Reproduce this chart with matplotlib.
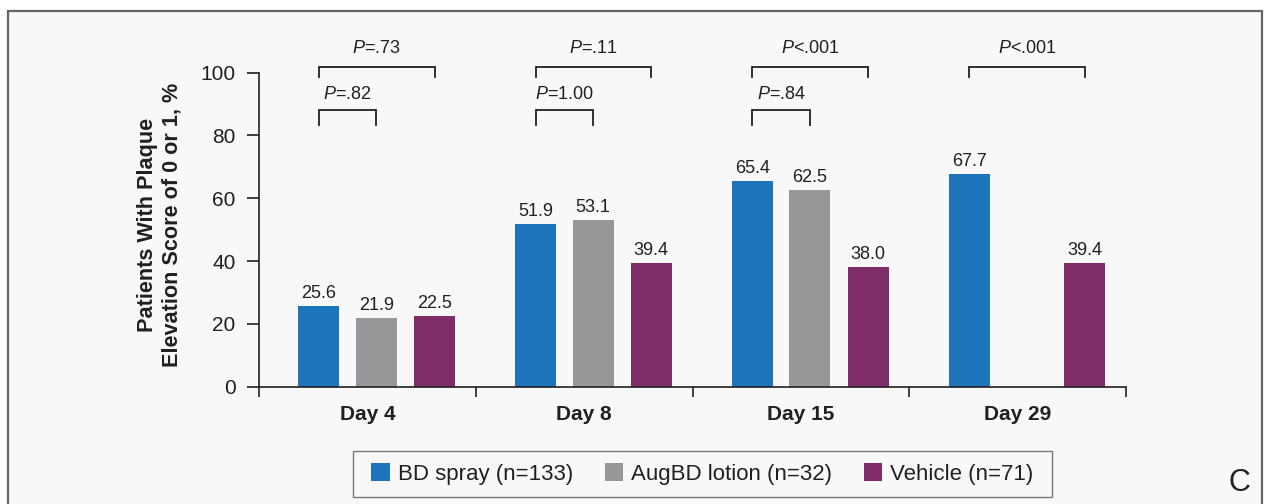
import numpy as np
import matplotlib
matplotlib.use("Agg")
import matplotlib.pyplot as plt
from matplotlib.patches import Rectangle
from matplotlib import font_manager as fm

# ---------------- data ----------------
days = ["Day 4", "Day 8", "Day 15", "Day 29"]
series_names = ["BD spray (n=133)", "AugBD lotion (n=32)", "Vehicle (n=71)"]
bd_spray = [25.6, 51.9, 65.4, 67.7]
augbd_lotion = [21.9, 53.1, 62.5, np.nan]
vehicle = [22.5, 39.4, 38.0, 39.4]
yticks = [0, 20, 40, 60, 80, 100]
ylabel = "Patients With Plaque\nElevation Score of 0 or 1, %"
# comparisons: (day index, series a, series b, level, text)
comparisons = [
    (0, 0, 1, "low", "=.82"),
    (0, 0, 2, "high", "=.73"),
    (1, 0, 1, "low", "=1.00"),
    (1, 0, 2, "high", "=.11"),
    (2, 0, 1, "low", "=.84"),
    (2, 0, 2, "high", "<.001"),
    (3, 0, 2, "high", "<.001"),
]

# ---------------- style ----------------
colors = ["#1e74bb", "#969799", "#7f2d68"]
offsets = [-0.224, 0.042, 0.31]
bar_w = 0.189
dark = "#231f20"

names = {f.name for f in fm.fontManager.ttflist}
main_font = "Liberation Sans" if "Liberation Sans" in names else "DejaVu Sans"

plt.rcParams["font.family"] = [main_font, "DejaVu Sans"]
plt.rcParams["mathtext.fontset"] = "custom"
plt.rcParams["mathtext.rm"] = main_font
plt.rcParams["mathtext.it"] = main_font + ":italic"

fig = plt.figure(figsize=(12.64, 5.04), dpi=100, facecolor="white")
W, H = 1264, 504

# panel frame
fig.patches.append(Rectangle((8 / W, -0.1), (1262 - 8) / W, 1 - 11 / H + 0.1,
                             transform=fig.transFigure, facecolor="#f8f8f8",
                             edgecolor="#666666", linewidth=1.6, zorder=-5))

ax = fig.add_axes([259 / W, 1 - 386.7 / H, 867 / W, 314 / H])
ax.set_facecolor("none")
ax.set_zorder(1)

x = np.arange(len(days))
all_series = [bd_spray, augbd_lotion, vehicle]
bars = []
for i, (vals, c, name) in enumerate(zip(all_series, colors, series_names)):
    b = ax.bar(x + offsets[i], vals, width=bar_w, color=c, label=name, zorder=2)
    bars.append(b)
    for xi, v in zip(x, vals):
        if np.isfinite(v):
            ax.annotate(f"{v:.1f}", (xi + offsets[i], v), xytext=(0, 3),
                        textcoords="offset points", ha="center", va="bottom",
                        fontsize=13, color=dark)

ax.set_xlim(-0.5, 3.5)
ax.set_ylim(0, 100)

for s in ["top", "right"]:
    ax.spines[s].set_visible(False)
for s in ["left", "bottom"]:
    ax.spines[s].set_color(dark)
    ax.spines[s].set_linewidth(1.2)
ax.spines["left"].set_bounds(0, 100)

ax.set_yticks(yticks)
ax.tick_params(axis="y", direction="out", length=9, width=1.2, color=dark,
               labelsize=15, labelcolor=dark, pad=8)
ax.set_xticks(x)
ax.set_xticklabels(days, fontsize=15, fontweight="bold", color=dark)
ax.tick_params(axis="x", which="major", length=0, pad=13)
ax.set_xticks(np.arange(-0.5, 3.6, 1.0), minor=True)
ax.tick_params(axis="x", which="minor", direction="out", length=7.5, width=1.2, color=dark)

fig.text(160 / W, 1 - 225 / H, ylabel, rotation=90, ha="center", va="center",
         fontsize=15.6, fontweight="bold", color=dark, multialignment="center",
         linespacing=1.2)

# significance brackets
levels = {"low": (88.0, 83.2, 91.7), "high": (101.75, 98.5, 106.2)}
for d, a, b, lev, txt in comparisons:
    top, bot, ty = levels[lev]
    xa = x[d] + offsets[a]
    xb = x[d] + offsets[b]
    ax.plot([xa, xa, xb, xb], [bot, top, top, bot], color=dark, lw=1.3,
            clip_on=False, solid_joinstyle="miter")
    ax.text((xa + xb) / 2, ty, r"$P$" + txt, ha="center", va="baseline",
            fontsize=13, color=dark, clip_on=False)

# legend box drawn separately for exact padding
fig.patches.append(Rectangle((353 / W, 1 - 497 / H), (1052 - 353) / W, 46 / H,
                             transform=fig.transFigure, facecolor="#f8f8f8",
                             edgecolor="#777777", linewidth=1.0, zorder=-4))
leg = fig.legend(handles=bars, labels=series_names, loc="center",
                 bbox_to_anchor=(702.5 / W, 1 - 474 / H), ncol=3,
                 frameon=False, prop={"family": main_font, "size": 16},
                 handlelength=0.85, handleheight=0.85, handletextpad=0.36,
                 columnspacing=1.4, borderpad=0.0)
for t in leg.get_texts():
    t.set_color(dark)

fig.text(1239 / W, 1 - 483 / H, "C", ha="center", va="center", fontsize=22,
         color=dark)

fig.savefig("out.png", dpi=100, facecolor="white")
